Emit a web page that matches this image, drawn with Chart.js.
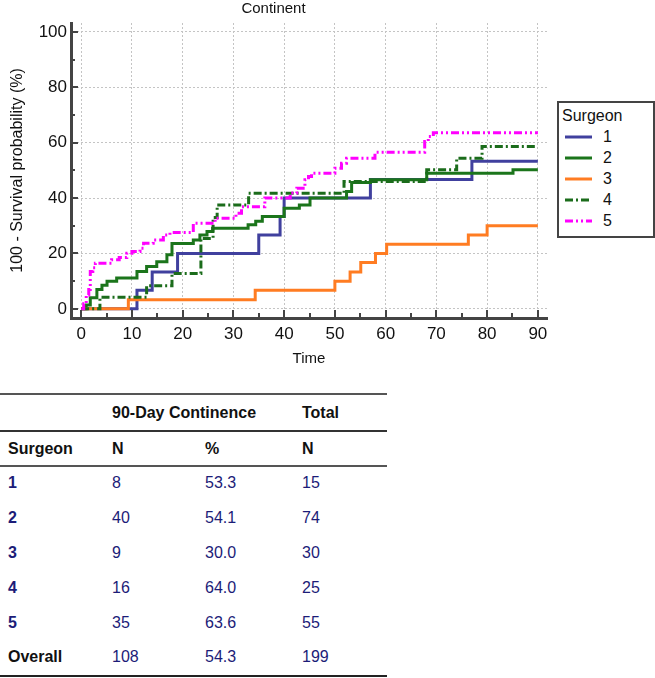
<!DOCTYPE html>
<html>
<head>
<meta charset="utf-8">
<script src="https://cdn.jsdelivr.net/npm/chart.js@4.4.1/dist/chart.umd.min.js"></script>
<style>
  body { margin: 0; background: #fff; font-family: Arial, "Liberation Sans", sans-serif; }
  #page { position: relative; width: 655px; height: 678px; overflow: hidden; }
  #kmChart { position: absolute; left: 0; top: 0; }
  #legend { position: absolute; left: 557px; top: 101px; width: 94px; height: 133px; border: 2px solid #444; background: #fff; font-size: 16px; color: #111; }
  #legend .ttl { position: absolute; left: 3px; top: 4px; line-height: 18px; }
  #legend .row { position: absolute; left: 6px; height: 18px; }
  #legend .row svg { position: absolute; left: 0; top: 6px; }
  #legend .row span { position: absolute; left: 38px; top: 0; line-height: 18px; }
  #stats { position: absolute; left: 0; top: 393px; width: 387px; border-collapse: collapse; font-size: 16px; table-layout: fixed; }
  #stats td { padding: 0 0 0 8px; white-space: nowrap; }
  #stats tr.h1 td { height: 35px; }
  #stats tr.h2 td { height: 33px; }
  #stats tr.d td { height: 31px; padding-bottom: 4px; }
  #stats tr.last td { height: 29px; padding-bottom: 4px; }
  #stats tr.h1 { border-top: 2px solid #555; border-bottom: 2px solid #333; }
  #stats tr.h2 { border-bottom: 2px solid #555; }
  #stats tr.last { border-bottom: 2px solid #222; }
  #stats .b { font-weight: bold; color: #111; }
  #stats .s { font-weight: bold; color: #1c1c78; }
  #stats .v { color: #1c1c78; }
</style>
</head>
<body>
<div id="page">
  <canvas id="kmChart" width="655" height="375"></canvas>
  <div id="legend"></div>
  <table id="stats">
    <colgroup><col style="width:104px"><col style="width:93px"><col style="width:97px"><col style="width:93px"></colgroup>
    <tbody id="statsBody"></tbody>
  </table>
</div>
<script>
// Kaplan-Meier steps: time at which the curve jumps, and the new level (%)
const surgeons = ['1', '2', '3', '4', '5'];

const time1 = [0, 11, 14, 19, 35, 39.2, 40, 57, 77, 90];
const val1  = [0, 6.7, 13.3, 20, 26.7, 33.3, 40, 46.7, 53.3, 53.3];

const time2 = [0, 1.0, 1.8, 3.1, 4.1, 5.1, 7.0, 11.0, 12.9, 14.9, 16.9, 17.9, 22.1, 23.4, 24.8, 25.9, 32.9, 34.4, 35.7, 40.0, 43.0, 45.1, 52.3, 53.3, 57.0, 68.1, 85.1, 90];
const val2  = [0, 1.4, 4.0, 7.0, 8.5, 10.0, 11.1, 13.5, 15.3, 17.0, 19.5, 23.6, 24.9, 26.7, 27.9, 29.1, 30.4, 31.6, 33.3, 36.3, 37.5, 40.0, 42.4, 45.6, 46.6, 49.0, 50.2, 50.2];

const time3 = [0, 9.3, 34.3, 50, 53, 55.1, 58, 60.2, 76.3, 80, 90];
const val3  = [0, 3.3, 6.7, 10, 13.3, 16.7, 20, 23.3, 26.7, 30, 30];

const time4 = [0, 3.7, 12.9, 17.9, 23.6, 26.0, 26.8, 33.0, 51.8, 68.1, 74.0, 79.0, 90];
const val4  = [0, 4.2, 8.3, 12.8, 25.4, 33.0, 37.5, 41.7, 46.0, 50.2, 54.4, 58.6, 58.6];

const time5 = [0, 0.5, 1.0, 1.5, 1.8, 2.3, 2.8, 6.0, 7.5, 9.0, 10.0, 11.6, 12.3, 14.2, 16.2, 17.5, 22.1, 26.4, 30.5, 31.6, 36.2, 41.2, 42.5, 44.1, 44.8, 45.4, 50.0, 51.3, 52.3, 57.9, 67.7, 68.4, 69.4, 90];
const val5  = [0, 1.8, 5.0, 7.0, 13.5, 14.8, 16.5, 17.7, 18.5, 20.1, 20.7, 21.9, 23.7, 24.9, 26.7, 27.6, 30.9, 32.7, 34.5, 36.9, 40.0, 41.8, 43.5, 46.6, 47.8, 49.0, 50.8, 52.6, 54.4, 56.5, 60.4, 62.2, 63.6, 63.6];

// table below the plot
const tableN     = ['8', '40', '9', '16', '35'];
const tablePct   = ['53.3', '54.1', '30.0', '64.0', '63.6'];
const tableTotal = ['15', '74', '30', '25', '55'];
const overall    = ['108', '54.3', '199'];

const times = [time1, time2, time3, time4, time5];
const vals = [val1, val2, val3, val4, val5];
const colors = ['#40409e', '#1b751b', '#ff7c22', '#1b6c1b', '#ff00ff'];
const dashes = [[], [], [], [8, 3, 2, 3], [8, 3, 2, 3, 2, 3]];
const font = 'Arial, "Liberation Sans", sans-serif';

// inward tick marks, like the original software draws them
const innerTicks = {
  id: 'innerTicks',
  afterDraw(chart) {
    const { ctx, chartArea, scales } = chart;
    ctx.save();
    ctx.strokeStyle = '#444';
    ctx.lineWidth = 2;
    scales.x.ticks.forEach(tk => {
      const px = Math.round(scales.x.getPixelForValue(tk.value));
      const len = tk.value % 10 === 0 ? 8 : 5;
      ctx.beginPath();
      ctx.moveTo(px, chartArea.bottom);
      ctx.lineTo(px, chartArea.bottom - len);
      ctx.stroke();
    });
    scales.y.ticks.forEach(tk => {
      const py = Math.round(scales.y.getPixelForValue(tk.value));
      const len = tk.value % 20 === 0 ? 7 : 4;
      ctx.beginPath();
      ctx.moveTo(chartArea.left, py);
      ctx.lineTo(chartArea.left + len, py);
      ctx.stroke();
    });
    ctx.restore();
  }
};

const datasets = surgeons.map((s, i) => ({
  label: s,
  data: times[i].map((t, j) => ({ x: t, y: vals[i][j] })),
  stepped: true,
  borderColor: colors[i],
  backgroundColor: colors[i],
  borderWidth: 3,
  borderDash: dashes[i],
  borderCapStyle: 'butt',
  pointRadius: 0,
  fill: false,
  order: surgeons.length - i
}));

new Chart(document.getElementById('kmChart'), {
  type: 'line',
  data: { datasets: datasets },
  options: {
    responsive: false,
    animation: false,
    devicePixelRatio: 1,
    layout: { padding: { left: 0, right: 108, top: 0, bottom: 0 } },
    plugins: {
      legend: { display: false },
      tooltip: { enabled: false },
      title: {
        display: true,
        text: 'Continent',
        color: '#111',
        font: { family: font, size: 15, weight: 'normal' },
        padding: { top: 0, bottom: 5 }
      }
    },
    scales: {
      x: {
        type: 'linear',
        min: -2,
        max: 91.8,
        afterFit: s => { s.height = 57; },
        ticks: {
          stepSize: 5,
          includeBounds: false,
          maxRotation: 0,
          autoSkip: false,
          padding: 6,
          color: '#111',
          font: { family: font, size: 17 },
          callback: v => (v % 10 === 0 ? v : '')
        },
        grid: {
          drawTicks: false,
          color: c => (c.tick && c.tick.value % 10 === 0 ? '#c4c4c4' : 'rgba(0,0,0,0)'),
          lineWidth: 1
        },
        border: { display: true, color: '#444', width: 3, dash: [2, 2] },
        title: {
          display: true,
          text: 'Time',
          color: '#111',
          font: { family: font, size: 15 },
          padding: { top: 0, bottom: 7 }
        }
      },
      y: {
        type: 'linear',
        min: -3.3,
        max: 103.2,
        afterFit: s => { s.width = 71; },
        ticks: {
          stepSize: 10,
          includeBounds: false,
          autoSkip: false,
          padding: 4,
          color: '#111',
          font: { family: font, size: 17 },
          callback: v => (v % 20 === 0 ? v : '')
        },
        grid: {
          drawTicks: false,
          color: c => (c.tick && c.tick.value % 20 === 0 ? '#c4c4c4' : 'rgba(0,0,0,0)'),
          lineWidth: 1
        },
        border: { display: true, color: '#444', width: 3, dash: [2, 2] },
        title: {
          display: true,
          text: '100 - Survival probability (%)',
          color: '#111',
          font: { family: font, size: 16 },
          padding: { top: 8, bottom: 0 }
        }
      }
    }
  },
  plugins: [innerTicks]
});

// legend box
const legend = document.getElementById('legend');
let html = '<div class="ttl">Surgeon</div>';
surgeons.forEach((s, i) => {
  const top = 25 + i * 21;
  html += `<div class="row" style="top:${top}px">
    <svg width="27" height="6"><line x1="0" y1="3" x2="27" y2="3" stroke="${colors[i]}" stroke-width="3" stroke-dasharray="${dashes[i].join(',') || 'none'}"/></svg>
    <span>${s}</span></div>`;
});
legend.innerHTML = html;

// statistics table
let rows = '<tr class="h1"><td></td><td class="b">90-Day Continence</td><td></td><td class="b">Total</td></tr>';
rows += '<tr class="h2"><td class="b">Surgeon</td><td class="b">N</td><td class="b">%</td><td class="b">N</td></tr>';
surgeons.forEach((s, i) => {
  rows += `<tr class="d"><td class="s">${s}</td><td class="v">${tableN[i]}</td><td class="v">${tablePct[i]}</td><td class="v">${tableTotal[i]}</td></tr>`;
});
rows += `<tr class="last"><td class="b">Overall</td><td class="v">${overall[0]}</td><td class="v">${overall[1]}</td><td class="v">${overall[2]}</td></tr>`;
document.getElementById('statsBody').innerHTML = rows;
</script>
</body>
</html>
